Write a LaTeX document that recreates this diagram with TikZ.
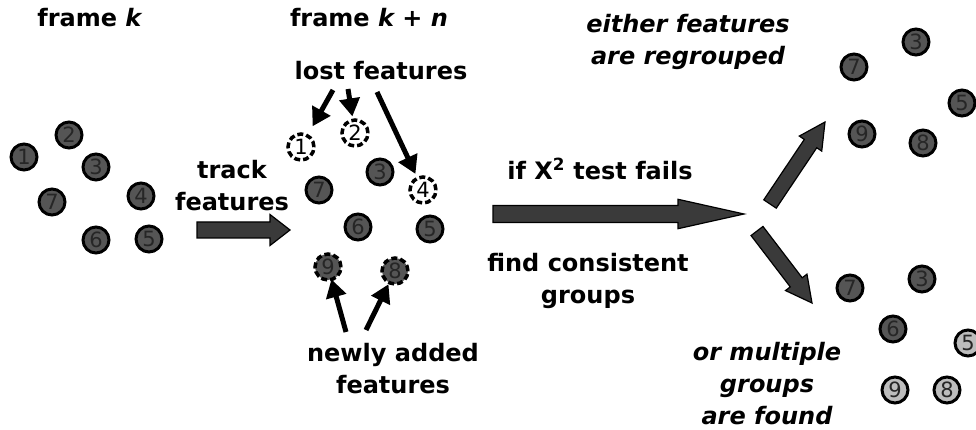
\documentclass[tikz,border=0pt]{standalone}
\usepackage{fontspec}
\setmainfont{DejaVu Sans}
\usetikzlibrary{arrows.meta,calc}

\definecolor{dotfill}{HTML}{555555}
\definecolor{lightfill}{HTML}{BDBDBD}
\definecolor{arrowfill}{HTML}{3A3A3A}

\tikzset{
  dot/.style={circle, draw=black, line width=3pt, fill=dotfill, minimum size=26pt,
    inner sep=0pt, text=black!85, font=\fontsize{21}{21}\selectfont},
  lostdot/.style={dot, fill=white, text=black, line width=3.5pt, dash pattern=on 6pt off 3pt},
  newdot/.style={dot, line width=3.5pt, dash pattern=on 6pt off 3pt},
  lightdot/.style={dot, fill=lightfill},
  lbl/.style={inner sep=0pt, align=center, font=\fontsize{24}{32}\selectfont\bfseries},
  note/.style={lbl, font=\fontsize{24}{32}\selectfont\bfseries\itshape},
  ptr/.style={line width=5pt, -{Triangle[length=18pt,width=20pt]}},
  bigarrow/.style={fill=arrowfill, draw=black, line width=1.2pt, line join=miter}
}

% block arrow: start, tip, shaft half width, head half width, head length
\newcommand{\blockarrow}[5]{%
  \coordinate (hb) at ($(#2)!#5!(#1)$);
  \filldraw[bigarrow] ($(#1)!#3!90:(#2)$) -- ($(hb)!#3!-90:(#1)$) -- ($(hb)!#4!-90:(#1)$)
    -- (#2) -- ($(hb)!#4!90:(#1)$) -- ($(hb)!#3!90:(#1)$) -- ($(#1)!#3!-90:(#2)$) -- cycle;
}

\begin{document}
\begin{tikzpicture}[x=1pt, y=-1pt]
\useasboundingbox (0,0) rectangle (976,430);

% frame k
\node[lbl, anchor=base] (fk) at (90,27) {frame \textit{k}};
\foreach \n/\x/\y in {1/24/157, 2/69/135, 3/96/167, 4/141/196, 5/149/239, 6/96/240, 7/52/202}
  \node[dot] (a\n) at (\x,\y) {\n};

% tracking step
\node[lbl] (track) at (232,186) {track\\features};
\coordinate (tk0) at (197,230);
\coordinate (tk1) at (290,230);
\blockarrow{tk0}{tk1}{8pt}{15.5pt}{20pt}

% frame k+n
\node[lbl, anchor=base] (fkn) at (369,27) {frame \textit{k + n}};
\node[lbl, anchor=base] (lost) at (381,80) {lost features};
\foreach \n/\x/\y in {3/380/172, 5/430/229, 6/358/227, 7/319/190}
  \node[dot] (b\n) at (\x,\y) {\n};
\foreach \n/\x/\y in {1/301/147, 2/355/133, 4/423/190}
  \node[lostdot] (b\n) at (\x,\y) {\n};
\foreach \n/\x/\y in {8/395/271, 9/328/267}
  \node[newdot] (b\n) at (\x,\y) {\n};

\coordinate (la) at (333,90);
\coordinate (lb) at (348,89);
\coordinate (lc) at (377,92);
\draw[ptr, shorten >=9pt] (la) -- (b1);
\draw[ptr, shorten >=2pt] (lb) -- (b2);
\draw[ptr, shorten >=3pt] (lc) -- (b4);

\node[lbl] (added) at (393,369) {newly added\\features};
\coordinate (na) at (346,332);
\coordinate (nb) at (366,330);
\draw[ptr, shorten >=-2pt] (na) -- (b9);
\draw[ptr, shorten >=0pt] (nb) -- (b8);

% chi-square test
\node[lbl, anchor=base] (test) at (600,180) {if X\textsuperscript{2} test fails};
\node[lbl] (find) at (588,281) {find consistent\\groups};
\coordinate (ts0) at (493,214);
\coordinate (ts1) at (744,214);
\blockarrow{ts0}{ts1}{8.5pt}{14.7pt}{66pt}

% two outcomes
\coordinate (up0) at (770,204);
\coordinate (up1) at (825,122);
\coordinate (dn0) at (757,231);
\coordinate (dn1) at (812,303);
\blockarrow{up0}{up1}{7.5pt}{13.5pt}{26pt}
\blockarrow{dn0}{dn1}{7.5pt}{13.5pt}{26pt}

\node[note] (regroup) at (688,42) {either features\\are regrouped};
\foreach \n/\x/\y in {3/916/42, 5/962/103, 7/854/67, 8/923/143, 9/862/134}
  \node[dot] (c\n) at (\x,\y) {\n};

\node[note] (multi) at (767,384) {or multiple\\groups\\are found};
\foreach \n/\x/\y in {3/922/279, 6/893/329, 7/850/288}
  \node[dot] (d\n) at (\x,\y) {\n};
\foreach \n/\x/\y in {5/968/343, 8/947/390, 9/895/390}
  \node[lightdot] (d\n) at (\x,\y) {\n};
\end{tikzpicture}
\end{document}
